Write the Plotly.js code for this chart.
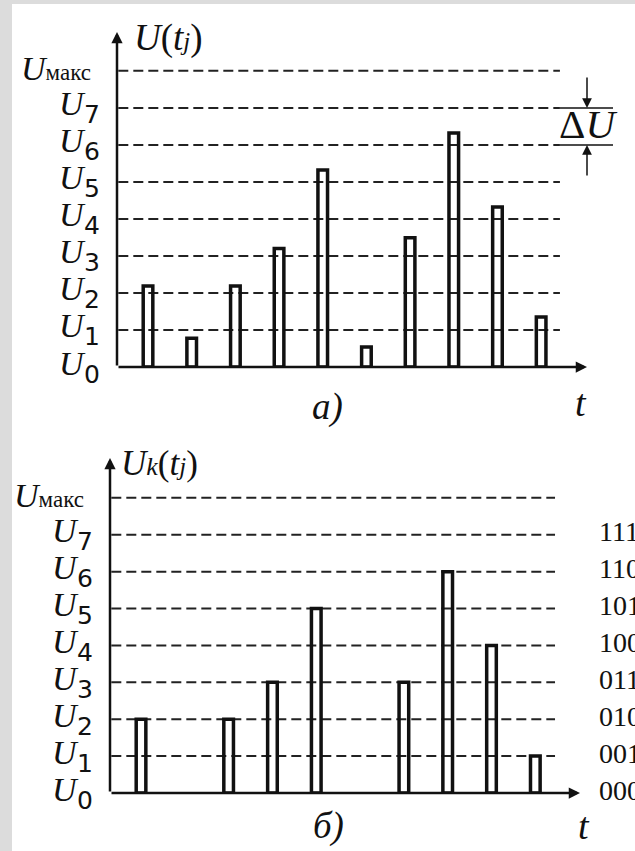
<!DOCTYPE html>
<html><head><meta charset="utf-8">
<script src="https://cdn.plot.ly/plotly-3.0.1.min.js"></script>
<style>html,body{margin:0;padding:0;background:#fff;overflow:hidden;}</style>
</head><body><div id="chart" style="width:635px;height:851px;"></div>
<script>
// ---- data ----
const sampleTimes = [1, 2, 3, 4, 5, 6, 7, 8, 9, 10];
const analogValues = [2.19, 0.78, 2.19, 3.2, 5.32, 0.54, 3.49, 6.32, 4.32, 1.35];
const quantizedValues = [2, 0, 2, 3, 5, 0, 3, 6, 4, 1];
const levelIndices = [0, 1, 2, 3, 4, 5, 6, 7];
const levelSubscripts = ['0', '1', '2', '3', '4', '5', '6', '7'];
const maxLevel = 8;
const maxLabel = 'макс';
const codeLabels = ['000', '001', '010', '011', '100', '101', '110', '111'];
const titleA = '<i>U</i>(<i>t</i><span style="font-size:25px"><i>j</i></span>)';
const titleB = '<i>U</i><span style="font-size:26px"><i>k</i></span>(<i>t</i><span style="font-size:25px"><i>j</i></span>)';
const captionA = '<i>a)</i>';
const captionB = '<i>б)</i>';
const axisName = '<i>t</i>';
const stepLabel = 'Δ<i>U</i>';

// ---- layout helpers ----
const W = 635, H = 851;
const px = x => x / W;
const py = y => 1 - y / H;
const SERIF = 'Liberation Serif';
const SANS = 'DejaVu Sans';
const INK = '#111';

const panels = [
  {xa: 'x', ya: 'y', axisX: 117, xr: [0.29, 11.05], yr: [0, 9.05], dashEnd: 10.43,
   dom: {x: [px(117), px(587)], y: [py(367), py(32)]}, values: analogValues,
   title: titleA, titleX: 132, titleY: 38, titleSize: 37, caption: captionA, capX: 310, capY: 407, tX: 581, tY: 403},
  {xa: 'x2', ya: 'y2', axisX: 110, xr: [0.292, 11.02], yr: [0, 9.08], dashEnd: 10.45,
   dom: {x: [px(110), px(580)], y: [py(793), py(458)]}, values: quantizedValues,
   title: titleB, titleX: 119, titleY: 464, titleSize: 35, caption: captionB, capX: 311, capY: 826, tX: 584, tY: 826}
];

const traces = [];
const shapes = [
  {type: 'rect', xref: 'paper', yref: 'paper', x0: 0, x1: px(12), y0: 0, y1: 1, fillcolor: '#dcdcdc', line: {width: 0}, layer: 'below'},
  {type: 'rect', xref: 'paper', yref: 'paper', x0: 0, x1: 1, y0: py(4), y1: 1, fillcolor: '#dcdcdc', line: {width: 0}, layer: 'below'}
];
const annotations = [];
const layout = {
  width: W, height: H, margin: {l: 0, r: 0, t: 0, b: 0},
  paper_bgcolor: '#ffffff', plot_bgcolor: 'rgba(0,0,0,0)', showlegend: false,
  font: {family: SERIF, color: INK}
};

panels.forEach((p, idx) => {
  const sfx = idx === 0 ? '' : '2';
  const hidden = {showgrid: false, zeroline: false, showticklabels: false, showline: false, ticks: '', fixedrange: true};
  layout['xaxis' + sfx] = Object.assign({domain: p.dom.x, range: p.xr, anchor: p.ya}, hidden);
  layout['yaxis' + sfx] = Object.assign({domain: p.dom.y, range: p.yr, anchor: p.xa}, hidden);

  traces.push({type: 'bar', x: sampleTimes, y: p.values, xaxis: p.xa, yaxis: p.ya, width: 0.22,
    marker: {color: 'rgba(0,0,0,0)', line: {color: INK, width: p.values.map(v => (v > 0 ? 3.5 : 0))}},
    hoverinfo: 'skip'});

  // dashed quantization levels
  levelIndices.concat([maxLevel]).forEach(lv => {
    if (lv === 0) return;
    shapes.push({type: 'line', xref: p.xa, yref: p.ya, x0: p.xr[0] + 0.03, x1: p.dashEnd, y0: lv, y1: lv,
      line: {color: '#222', width: 2, dash: '10px,5px'}, layer: 'below'});
  });

  // axes with arrows
  annotations.push({xref: p.xa, yref: p.ya, axref: p.xa, ayref: p.ya, x: p.xr[0], y: p.yr[1], ax: p.xr[0], ay: 0,
    text: '', showarrow: true, arrowhead: 2, arrowsize: 0.9, arrowwidth: 2.5, arrowcolor: INK, standoff: 0, startstandoff: 0});
  annotations.push({xref: p.xa, yref: p.ya, axref: p.xa, ayref: p.ya, x: p.xr[1], y: 0, ax: p.xr[0], ay: 0,
    text: '', showarrow: true, arrowhead: 2, arrowsize: 0.9, arrowwidth: 2.5, arrowcolor: INK, standoff: 0, startstandoff: 0});

  // level labels U_k
  levelIndices.forEach((lv, i) => {
    annotations.push({xref: 'paper', yref: p.ya, x: px(p.axisX - 60), y: lv, xanchor: 'left', yanchor: 'middle', yshift: 4,
      text: '<i>U</i>', showarrow: false, font: {family: SERIF, size: 34, color: INK}});
    annotations.push({xref: 'paper', yref: p.ya, x: px(p.axisX - 35), y: lv, xanchor: 'left', yanchor: 'middle', yshift: -7,
      text: levelSubscripts[i], showarrow: false, font: {family: SANS, size: 25, color: INK}});
  });
  annotations.push({xref: 'paper', yref: p.ya, x: px(p.axisX - 98), y: maxLevel, xanchor: 'left', yanchor: 'middle', yshift: 2,
    text: '<i>U</i><span style="font-size:23px">' + maxLabel + '</span>', showarrow: false, font: {family: SERIF, size: 34, color: INK}});

  // titles & captions
  annotations.push({xref: 'paper', yref: 'paper', x: px(p.titleX), y: py(p.titleY), xanchor: 'left', yanchor: 'middle',
    text: p.title, showarrow: false, font: {family: SERIF, size: p.titleSize, color: INK}});
  annotations.push({xref: 'paper', yref: 'paper', x: px(p.capX), y: py(p.capY), xanchor: 'left', yanchor: 'middle',
    text: p.caption, showarrow: false, font: {family: SERIF, size: 37, color: INK}});
  annotations.push({xref: 'paper', yref: 'paper', x: px(p.tX), y: py(p.tY), xanchor: 'center', yanchor: 'middle',
    text: axisName, showarrow: false, font: {family: SERIF, size: 38, color: INK}});
});

// ΔU marker on top panel
[7, 6].forEach(lv => {
  shapes.push({type: 'line', xref: 'paper', yref: 'y', x0: px(560), x1: px(613), y0: lv, y1: lv, line: {color: INK, width: 1.5}});
});
annotations.push({xref: 'paper', yref: 'y', x: px(587), y: 7, ax: 0, ay: -32, text: '', showarrow: true,
  arrowhead: 2, arrowsize: 1.3, arrowwidth: 1.5, arrowcolor: INK, standoff: 0});
annotations.push({xref: 'paper', yref: 'y', x: px(587), y: 6, ax: 0, ay: 32, text: '', showarrow: true,
  arrowhead: 2, arrowsize: 1.3, arrowwidth: 1.5, arrowcolor: INK, standoff: 0});
annotations.push({xref: 'paper', yref: 'y', x: px(588), y: 6.5, xanchor: 'center', yanchor: 'middle', yshift: 2,
  text: stepLabel, showarrow: false, font: {family: SERIF, size: 41, color: INK}});

// binary codes on bottom panel
levelIndices.forEach((lv, i) => {
  annotations.push({xref: 'paper', yref: 'y2', x: px(597), y: lv, xanchor: 'left', yanchor: 'middle', yshift: 3,
    text: codeLabels[i], showarrow: false, font: {family: SERIF, size: 28, color: INK}});
});

layout.shapes = shapes;
layout.annotations = annotations;
Plotly.newPlot('chart', traces, layout, {staticPlot: true, displayModeBar: false});
</script></body></html>
